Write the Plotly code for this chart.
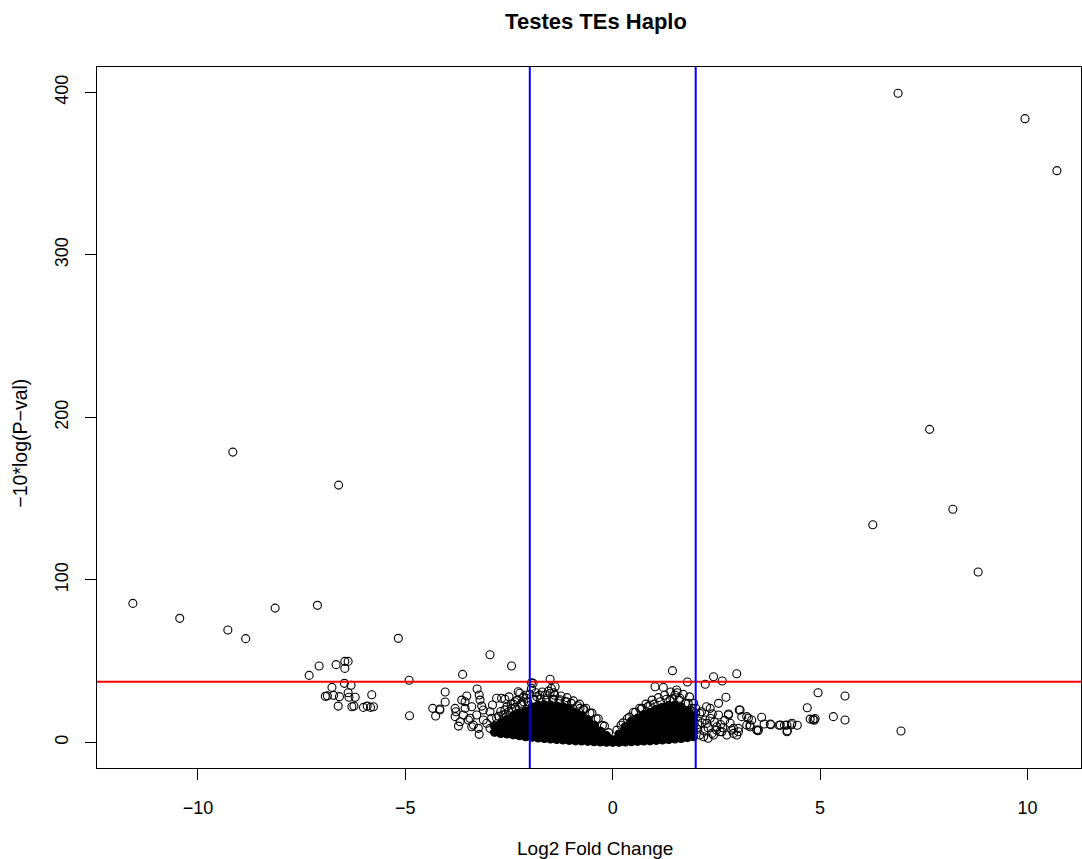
import plotly.graph_objects as go

# ---------------- data ----------------
# isolated / labelled-region points (open circles)
out_x = [6.88, 9.94, 10.71, 7.64, 8.20, 6.27, 8.81,
         -9.16, -6.61, -11.57, -10.44, -9.28, -8.85, -8.14, -7.12, -5.17]
out_y = [399.4, 383.8, 351.8, 192.6, 143.4, 133.9, 104.8,
         178.6, 158.3, 85.5, 76.3, 69.1, 63.8, 82.6, 84.3, 64.0]

left_x = [-7.32, -7.08, -6.67, -6.46, -6.38, -6.46, -6.47, -6.31, -6.77, -6.38, -5.81, -6.93, -6.88,
          -6.73, -6.59, -6.36, -6.21, -6.62, -6.29, -6.24, -6.01, -5.92, -5.84, -5.77, -4.91, -4.90,
          -4.34, -4.27, -4.17, -4.04, -4.04, -2.96, -2.44, -3.62]
left_y = [41.2, 47.0, 47.8, 49.8, 49.8, 45.5, 36.3, 35.1, 33.8, 30.5, 29.3, 28.3, 28.6,
          28.9, 28.1, 27.7, 27.7, 22.3, 21.9, 22.3, 21.5, 22.3, 21.5, 21.9, 38.2, 16.4,
          20.9, 16.2, 20.5, 24.8, 31.0, 53.9, 47.0, 41.8]

nearL_x = [-3.27, -3.22, -3.52, -3.56, -3.20, -3.40, -3.16, -3.78, -3.80, -3.60, -3.68, -3.44, -3.36,
           -3.24, -3.22, -3.12, -2.96, -2.92, -2.80, -2.68, -2.60, -2.44, -2.36, -2.24, -2.20, -2.30,
           -2.08, -1.96, -1.92, -1.51, -1.39, -1.51, -1.63, -1.83, -1.43, -1.27, -1.11, -0.79, -0.71,
           -2.96, -2.84, -1.48, -1.42, -1.96, -2.28, -2.08, -1.76, -3.72, -3.48, -3.40, -3.04, -3.28,
           -3.12, -3.56, -3.80, -3.64, -4.17, -2.55, -2.70, -2.50, -2.15, -2.40, -2.60, -2.75, -2.90]
nearL_y = [32.8, 29.1, 28.5, 25.0, 26.0, 21.9, 22.3, 18.8, 15.8, 16.8, 12.7, 14.8, 10.6,
           8.6, 4.9, 13.7, 18.8, 14.8, 27.1, 27.1, 26.5, 20.9, 25.0, 30.2, 24.0, 17.8,
           27.1, 33.2, 36.3, 38.8, 34.2, 30.2, 29.1, 28.1, 26.5, 26.2, 25.0, 20.9, 19.9,
           8.6, 6.5, 33.2, 30.5, 36.7, 31.1, 29.1, 29.1, 10.0, 13.7, 9.6, 11.7, 16.8,
           19.9, 20.9, 20.9, 26.0, 19.9, 22.0, 19.0, 28.0, 25.0, 23.5, 17.0, 16.0, 23.0]

nearR_x = [1.44, 1.80, 1.02, 1.22, 2.23, 2.43, 2.64, 2.99, 1.54, 1.50, 1.38, 1.62, 1.82, 1.90,
           0.70, 0.90, 1.06, 2.35, 2.55, 2.73, 2.10, 2.23, 2.35, 2.55, 2.79, 3.07, 3.23, 3.59,
           3.35, 3.80, 4.04, 4.20, 4.32, 3.51, 4.20, 2.10, 2.27, 2.51, 2.43, 2.75, 2.87, 3.03,
           2.99, 3.23, 2.63, 2.30, 2.14, 2.26, 2.83, 2.59, 2.39, 2.19, 2.91, 3.47, 3.31, 3.27,
           2.05, 2.15, 2.20, 2.30, 2.45, 2.50, 2.60, 2.70, 2.65, 2.40, 2.05, 2.00]
nearR_y = [44.1, 37.1, 34.2, 33.8, 35.7, 40.4, 37.7, 42.2, 32.2, 29.1, 26.0, 27.1, 24.0, 18.8,
           20.9, 23.0, 19.9, 20.9, 24.0, 27.7, 17.8, 13.7, 14.8, 16.8, 17.4, 19.9, 15.8, 15.4,
           13.7, 11.3, 10.6, 10.6, 11.7, 7.6, 6.5, 4.5, 11.7, 9.6, 4.5, 4.5, 7.6, 8.6,
           4.5, 10.6, 6.5, 2.5, 18.8, 21.9, 11.7, 6.5, 5.5, 3.4, 8.6, 7.6, 10.6, 14.8,
           8.0, 12.0, 7.0, 9.0, 12.5, 7.5, 11.0, 13.5, 9.0, 17.5, 11.0, 21.0]

farR_x = [4.95, 5.60, 4.69, 5.32, 5.60, 4.76, 4.83, 4.88, 4.86, 6.95, 4.45, 4.31, 4.21, 4.14,
          4.01, 3.81, 3.65, 3.50, 3.31, 3.05, 2.79, 3.11, 3.03, 2.91]
farR_y = [30.5, 28.5, 21.3, 15.8, 13.7, 14.3, 14.0, 14.6, 13.6, 7.0, 10.5, 10.8, 7.1, 10.5,
          10.5, 10.8, 11.3, 7.1, 9.6, 19.9, 16.8, 15.8, 6.5, 5.5]

# open circles along the upper edge of the dense cloud
edge_x = [-2.80, -2.65, -2.50, -2.35, -2.20, -2.05, -1.90, -1.75, -1.60, -1.45, -1.30, -1.15,
          -1.00, -0.85, -0.70, -0.55, -0.40, -0.25, -0.10,
          0.10, 0.25, 0.40, 0.55, 0.70, 0.85, 1.00, 1.15, 1.30, 1.45, 1.60, 1.75, 1.90, 2.00]
edge_y = [15.0, 17.0, 19.0, 21.5, 23.0, 25.0, 26.5, 27.0, 26.0, 26.5, 25.5, 25.0,
          24.0, 22.5, 20.5, 18.0, 14.5, 10.5, 6.0,
          7.5, 12.0, 15.5, 18.5, 20.5, 22.0, 23.5, 25.0, 26.5, 27.0, 26.0, 24.0, 21.0, 18.0]

# second, looser band of open circles above the cloud
band_x = [-2.60, -2.45, -2.30, -2.15, -2.00, -1.85, -1.70, -1.55, -1.40, -1.25, -1.10, -0.95,
          -0.80, -0.65, -0.50, -0.35, -0.20,
          0.20, 0.35, 0.50, 0.65, 0.80, 0.95, 1.10, 1.25, 1.40, 1.55, 1.70, 1.85, 1.95]
band_y = [20.0, 23.5, 26.0, 28.0, 29.5, 30.5, 31.0, 31.5, 29.0, 28.5, 27.5, 25.5,
          23.5, 21.0, 18.0, 14.5, 10.0,
          10.5, 14.5, 18.5, 21.0, 23.5, 26.0, 27.5, 29.0, 31.0, 30.5, 29.5, 28.0, 24.0]

# saturated core of the cloud (thousands of overlapping circles) : column x -> y values
core_cols = [
    (-2.85, [6.2, 9.8]),
    (-2.70, [5.4, 8.9, 12.1]),
    (-2.55, [5.1, 8.4, 11.8, 14.2]),
    (-2.40, [4.6, 8.1, 11.4, 14.9, 16.3]),
    (-2.25, [4.1, 7.4, 11.1, 14.4, 17.9]),
    (-2.10, [3.4, 7.1, 10.4, 13.9, 17.3, 19.2]),
    (-1.95, [3.1, 6.4, 9.9, 13.6, 16.8, 20.1, 21.6]),
    (-1.80, [2.7, 6.2, 9.7, 13.2, 16.9, 20.2, 22.8]),
    (-1.65, [2.4, 6.1, 9.4, 12.9, 16.4, 19.8, 23.1]),
    (-1.50, [2.1, 5.4, 9.1, 12.4, 16.1, 19.4, 22.9]),
    (-1.35, [1.7, 5.2, 8.7, 12.2, 15.7, 19.1, 22.4]),
    (-1.20, [1.4, 4.9, 8.4, 11.9, 15.4, 18.8, 21.9]),
    (-1.05, [1.2, 4.6, 8.1, 11.6, 15.1, 18.6, 20.8]),
    (-0.90, [0.9, 4.4, 7.9, 11.4, 14.9, 18.3]),
    (-0.75, [0.8, 4.2, 7.7, 11.2, 14.6, 16.4]),
    (-0.60, [0.6, 4.0, 7.5, 10.9, 13.8]),
    (-0.45, [0.4, 3.8, 7.3, 10.6]),
    (-0.30, [0.2, 3.6, 6.9]),
    (-0.15, [0.1, 3.4, 4.1]),
    (0.00, [0.0, 1.6]),
    (0.15, [0.1, 3.4, 5.1]),
    (0.30, [0.2, 3.6, 7.1, 9.6]),
    (0.45, [0.4, 3.8, 7.3, 10.8, 13.1]),
    (0.60, [0.6, 4.0, 7.5, 11.0, 14.9]),
    (0.75, [0.8, 4.2, 7.7, 11.2, 14.7, 17.1]),
    (0.90, [0.9, 4.4, 7.9, 11.4, 14.9, 18.4]),
    (1.05, [1.2, 4.6, 8.1, 11.6, 15.1, 18.6, 20.4]),
    (1.20, [1.4, 4.9, 8.4, 11.9, 15.4, 18.9, 21.6]),
    (1.35, [1.7, 5.2, 8.7, 12.2, 15.7, 19.2, 22.6]),
    (1.50, [2.1, 5.4, 9.1, 12.4, 16.1, 19.4, 22.9]),
    (1.65, [2.4, 6.1, 9.4, 12.9, 16.4, 19.8, 21.7]),
    (1.80, [2.9, 6.4, 9.9, 13.4, 16.9, 19.6]),
    (1.95, [3.4, 6.9, 10.4, 13.9, 16.2]),
]

# reference lines
fc_cut = [-2, 2]
p_cut = 37.3

x_ticks = [-10, -5, 0, 5, 10]
y_ticks = [0, 100, 200, 300, 400]

# ---------------- figure ----------------
open_x = out_x + left_x + nearL_x + nearR_x + farR_x + edge_x + band_x
open_y = out_y + left_y + nearL_y + nearR_y + farR_y + edge_y + band_y
core_x = [c[0] for c in core_cols for _ in c[1]]
core_y = [v for c in core_cols for v in c[1]]

fig = go.Figure()
fig.add_trace(go.Scatter(
    x=core_x, y=core_y, mode="markers",
    marker=dict(symbol="circle", size=8, color="black", line=dict(color="black", width=1.1)),
    hoverinfo="skip"))
fig.add_trace(go.Scatter(
    x=open_x, y=open_y, mode="markers",
    marker=dict(symbol="circle-open", size=8, color="black", line=dict(color="black", width=1.1))))

fig.add_hline(y=p_cut, line=dict(color="#ff0000", width=2), layer="above")
for v in fc_cut:
    fig.add_vline(x=v, line=dict(color="#0000ff", width=2), layer="above")

font_family = "Liberation Sans, Arial, Helvetica, sans-serif"
axis_common = dict(showgrid=False, zeroline=False, showline=True, mirror=True,
                   linecolor="black", linewidth=1, ticks="outside", ticklen=11,
                   tickwidth=1, tickcolor="black",
                   tickfont=dict(family=font_family, size=18, color="black"))

fig.update_layout(
    width=1082, height=859,
    margin=dict(l=97, r=1, t=67, b=91),
    paper_bgcolor="white", plot_bgcolor="white",
    showlegend=False,
    font=dict(family=font_family, color="black"),
    title=dict(text="<b>Testes TEs Haplo</b>", x=596 / 1082, xanchor="center",
               y=1 - 21 / 859, yanchor="middle", yref="container",
               font=dict(family=font_family, size=22, color="black")),
    xaxis=dict(range=[-12.435, 11.29], tickvals=x_ticks, ticklabelstandoff=12, **axis_common),
    yaxis=dict(range=[-15.8, 415.6], tickvals=y_ticks, tickangle=-90, ticklabelstandoff=10,
               **axis_common),
    annotations=[
        dict(text="Log2 Fold Change", xref="paper", yref="paper", x=(595 - 97) / 984, y=0,
             xanchor="center", yanchor="middle", yshift=-80, showarrow=False,
             font=dict(family=font_family, size=19, color="black")),
        dict(text="−10*log(P−val)", xref="paper", yref="paper", x=0, y=(742.3 - 418) / 701,
             xanchor="center", yanchor="middle", xshift=-77, textangle=-90, showarrow=False,
             font=dict(family=font_family, size=19.5, color="black")),
    ],
)

fig.write_html("out.html")
